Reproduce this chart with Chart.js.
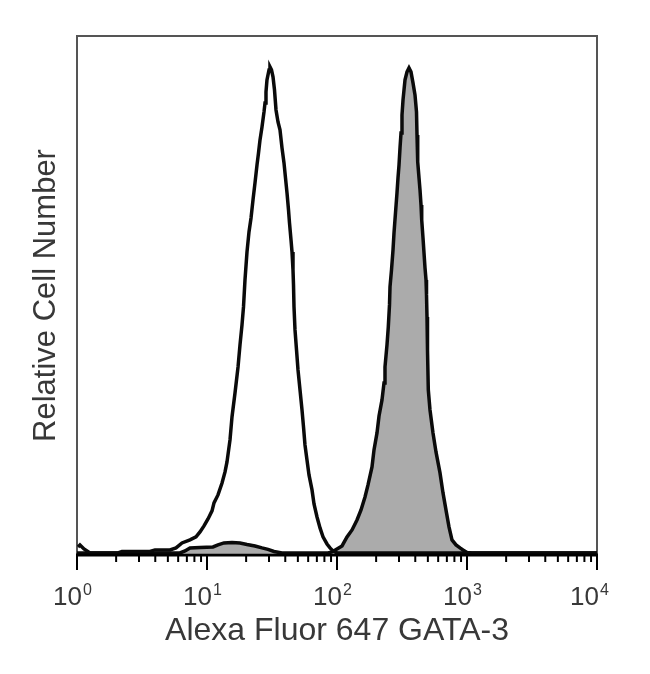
<!DOCTYPE html>
<html>
<head>
<meta charset="utf-8">
<script src="https://cdn.jsdelivr.net/npm/chart.js@4.4.1/dist/chart.umd.min.js"></script>
<style>
  html, body { margin: 0; padding: 0; background: #ffffff; }
  #wrap { width: 650px; height: 674px; position: relative; }
</style>
</head>
<body>
<div id="wrap"><canvas id="c" width="650" height="674"></canvas></div>
<script>
// ---- Data ----
const xAxisTitle = 'Alexa Fluor 647 GATA-3';
const yAxisTitle = 'Relative Cell Number';
const tickValues = [1, 10, 100, 1000, 10000];
const tickBase = '10';
const tickExponents = ['0', '1', '2', '3', '4'];

// Open (unfilled) histogram: isotype/control
const controlX = [1.018, 1.054, 1.132, 1.259, 2.067, 2.219, 3.643, 3.981, 5.193, 5.776, 6.424, 7.400, 8.230, 8.835, 9.483, 10.18, 10.93, 11.32, 12.15, 13.05, 13.76, 14.25, 15.03, 15.57, 16.42, 17.33, 17.94, 18.59, 19.09, 19.60, 20.31, 21.04, 21.81, 22.59, 23.40, 24.25, 24.90, 25.57, 26.49, 27.45, 27.94, 28.43, 28.93, 29.99, 30.52, 31.34, 32.19, 33.05, 33.95, 35.17, 36.43, 37.75, 39.11, 40.16, 41.25, 42.36, 43.11, 44.28, 45.07, 45.87, 46.28, 46.70, 47.53, 48.82, 50.12, 51.93, 53.80, 55.25, 56.73, 58.77, 60.90, 64.24, 66.55, 70.19, 74.01, 78.04, 83.77, 88.35, 93.16, 100, 10000];
const controlY = [1.16, 1.55, 0.77, 0, 0, 0.29, 0.29, 0.58, 0.58, 0.97, 1.93, 2.52, 3.10, 4.06, 5.22, 6.58, 8.13, 9.67, 11.22, 13.54, 15.67, 17.60, 21.86, 26.31, 30.95, 35.98, 40.24, 44.11, 47.59, 52.81, 58.23, 62.10, 64.81, 68.29, 71.58, 75.06, 77.38, 79.90, 82.41, 85.32, 87.06, 89.19, 91.51, 93.44, 94.02, 93.44, 92.09, 89.57, 85.70, 83.38, 81.83, 78.35, 75.45, 72.55, 69.65, 66.36, 63.84, 60.55, 58.23, 54.75, 51.85, 47.59, 43.14, 39.27, 35.40, 31.53, 27.66, 24.38, 20.89, 17.99, 15.09, 12.19, 9.48, 6.96, 4.84, 3.10, 1.74, 0.97, 0.39, 0, 0];

// Filled (gray) histogram: GATA-3 stained
const stainedX = [1, 6.199, 6.772, 7.400, 8.835, 11.12, 12.15, 13.51, 15.57, 17.94, 20.31, 23.40, 26.49, 29.46, 32.76, 37.75, 85.27, 91.52, 100, 109.3, 119.4, 130.5, 142.5, 153.0, 164.2, 173.2, 185.9, 192.6, 203.1, 210.5, 221.9, 229.9, 234.0, 242.4, 248.1, 253.4, 255.7, 262.6, 269.7, 274.5, 281.8, 289.4, 294.6, 300.0, 305.3, 310.8, 316.2, 322.0, 327.7, 333.6, 345.6, 357.9, 370.8, 384.2, 398.1, 408.8, 412.5, 417.7, 427.4, 435.0, 442.8, 448.3, 458.7, 466.9, 475.3, 483.8, 488.1, 492.4, 496.8, 503.9, 519.3, 547.6, 577.4, 619.9, 653.8, 695.5, 726.9, 766.5, 823.1, 883.6, 931.6, 1000, 1093, 10000];
const stainedY = [0, 0, 0.39, 0.97, 1.06, 1.16, 1.55, 1.93, 2.03, 1.93, 1.64, 1.35, 0.97, 0.68, 0.29, 0, 0, 0.19, 0.77, 1.35, 3.10, 4.45, 6.38, 8.32, 10.83, 13.16, 16.64, 19.93, 23.22, 26.50, 29.60, 32.89, 35.98, 40.24, 43.72, 47.98, 51.46, 54.75, 58.62, 61.91, 65.78, 69.65, 72.55, 75.06, 78.35, 81.25, 84.73, 87.64, 89.57, 91.51, 93.06, 93.83, 93.06, 90.93, 88.60, 85.32, 80.87, 75.64, 72.55, 70.23, 67.32, 64.42, 60.94, 58.04, 55.14, 52.81, 49.91, 45.66, 39.27, 31.53, 27.66, 23.22, 19.54, 15.48, 11.61, 7.74, 5.03, 2.52, 1.55, 0.97, 0.58, 0.1, 0, 0];

const toPoints = (xs, ys) => xs.map((x, i) => ({ x: x, y: ys[i] }));

const FONT = "'Liberation Sans', Arial, Helvetica, sans-serif";
const TEXT_COLOR = '#383838';

// Frame (left/top/right border) + x-axis ticks and exponent labels
const framePlugin = {
  id: 'framePlugin',
  beforeDatasetsDraw(chart) {
    const { ctx, chartArea: a } = chart;
    ctx.save();
    ctx.strokeStyle = '#555555';
    ctx.lineWidth = 2;
    ctx.beginPath();
    ctx.moveTo(a.left, a.bottom);
    ctx.lineTo(a.left, a.top);
    ctx.lineTo(a.right, a.top);
    ctx.lineTo(a.right, a.bottom);
    ctx.stroke();
    ctx.restore();
  },
  afterDraw(chart) {
    const { ctx, chartArea: a } = chart;
    const xs = chart.scales.x;
    ctx.save();
    // bottom axis line
    ctx.strokeStyle = '#000';
    ctx.lineWidth = 3;
    ctx.beginPath();
    ctx.moveTo(a.left - 1, a.bottom);
    ctx.lineTo(a.right + 1, a.bottom);
    ctx.stroke();
    // ticks
    ctx.lineWidth = 2;
    for (let d = 0; d < tickValues.length; d++) {
      const v = tickValues[d];
      const px = xs.getPixelForValue(v);
      ctx.beginPath();
      ctx.moveTo(px, a.bottom);
      ctx.lineTo(px, a.bottom + 15);
      ctx.stroke();
      if (d < tickValues.length - 1) {
        for (let m = 2; m <= 9; m++) {
          const mp = xs.getPixelForValue(v * m);
          ctx.beginPath();
          ctx.moveTo(mp, a.bottom);
          ctx.lineTo(mp, a.bottom + 7);
          ctx.stroke();
        }
      }
    }
    // labels 10^n
    ctx.fillStyle = TEXT_COLOR;
    ctx.textBaseline = 'alphabetic';
    tickValues.forEach((v, i) => {
      const px = xs.getPixelForValue(v);
      const shift = (i === tickValues.length - 1) ? 2 : 5;
      ctx.font = '26px ' + FONT;
      ctx.textAlign = 'right';
      ctx.fillText(tickBase, px + shift, 605);
      ctx.font = '16px ' + FONT;
      ctx.textAlign = 'left';
      ctx.fillText(tickExponents[i], px + shift + 1, 595);
    });
    ctx.restore();
  }
};

new Chart(document.getElementById('c'), {
  type: 'line',
  data: {
    datasets: [
      {
        label: 'Control',
        data: toPoints(controlX, controlY),
        borderColor: '#0a0a0a',
        borderWidth: 3.5,
        backgroundColor: 'rgba(0,0,0,0)',
        fill: false,
        pointRadius: 0,
        tension: 0,
        order: 0
      },
      {
        label: 'GATA-3',
        data: toPoints(stainedX, stainedY),
        borderColor: '#0a0a0a',
        borderWidth: 3.5,
        backgroundColor: '#ababab',
        fill: 'origin',
        pointRadius: 0,
        tension: 0,
        order: 1
      }
    ]
  },
  options: {
    responsive: true,
    maintainAspectRatio: false,
    animation: false,
    devicePixelRatio: 1,
    layout: { padding: { top: 36, right: 53, left: 0, bottom: 0 } },
    plugins: { legend: { display: false }, tooltip: { enabled: false } },
    scales: {
      x: {
        type: 'logarithmic',
        min: 1,
        max: 10000,
        grid: { display: false, drawTicks: false },
        border: { display: false },
        ticks: { display: false },
        title: {
          display: true,
          text: xAxisTitle,
          color: TEXT_COLOR,
          font: { family: FONT, size: 32 },
          padding: { top: 0, bottom: 24 }
        },
        afterFit(s) { s.height = 119; }
      },
      y: {
        min: -0.4,
        max: 100,
        grid: { display: false, drawTicks: false },
        border: { display: false },
        ticks: { display: false },
        title: {
          display: true,
          text: yAxisTitle,
          color: TEXT_COLOR,
          font: { family: FONT, size: 31 },
          padding: { top: 28, bottom: 0 }
        },
        afterFit(s) { s.width = 77; }
      }
    }
  },
  plugins: [framePlugin]
});
</script>
</body>
</html>
